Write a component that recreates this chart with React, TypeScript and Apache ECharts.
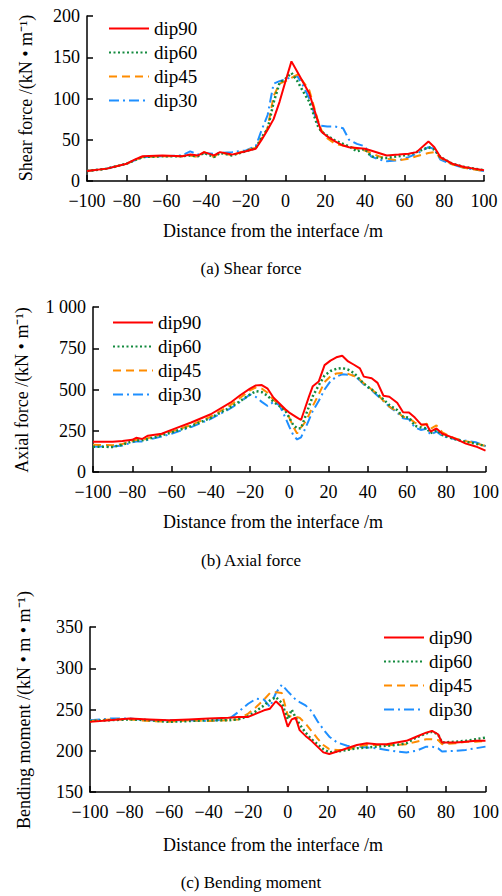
import React, { useEffect, useRef } from "react";
import * as echarts from "echarts";

// ---------- Panel (a) Shear force ----------
const shearX = [-100, -90, -80, -76, -72, -62, -52, -48, -44, -41, -36, -33, -27, -20, -15, -12, -9, -6, -3, 0, 3, 6, 9, 12, 16, 18, 21, 25, 29, 32, 36, 40, 43, 47, 51, 57, 62, 66, 72, 75, 78, 84, 90, 95, 100];
const shearDip90 = [12, 15, 21, 26, 30, 31, 30, 32, 31, 35, 31, 35, 32, 36, 39, 50, 62, 75, 96, 121, 145, 132, 119, 106, 75, 60, 54, 48, 43, 41, 40, 39, 37, 34, 31, 32, 33, 35, 48, 41, 29, 21, 17, 15, 13];
const shearDip60 = [12, 15, 21, 25, 29, 30, 30, 31, 30, 34, 29, 34, 31, 36, 40, 53, 63, 95, 119, 124, 131, 121, 108, 96, 68, 60, 55, 49, 45, 42, 36, 39, 30, 28, 28, 30, 32, 35, 41, 38, 29, 21, 17, 15, 13];
const shearDip45 = [12, 15, 21, 25, 29, 30, 30, 31, 29, 35, 29, 35, 31, 37, 40, 52, 64, 103, 118, 121, 125, 129, 120, 110, 76, 62, 52, 45, 43, 42, 39, 37, 34, 30, 27, 25, 27, 30, 34, 35, 28, 20, 16, 14, 12];
const shearDip30 = [12, 15, 21, 25, 29, 30, 31, 36, 32, 34, 33, 34, 35, 37, 42, 62, 80, 118, 121, 123, 126, 127, 115, 100, 71, 67, 66, 66, 64, 50, 45, 42, 30, 26, 24, 25, 29, 33, 41, 39, 26, 20, 16, 14, 12];

// ---------- Panel (b) Axial force ----------
const axialX = [-100, -90, -85, -80, -78, -75, -72, -65, -60, -50, -40, -30, -25, -20, -17, -14, -11, -8, -5, -2, 0, 2, 4, 6, 8, 10, 12, 15, 18, 21, 24, 27, 30, 33, 36, 38, 42, 45, 48, 51, 55, 58, 61, 64, 67, 70, 72, 75, 78, 84, 90, 95, 100];
const axialDip90 = [183, 184, 188, 195, 207, 200, 220, 232, 255, 300, 350, 420, 465, 505, 525, 527, 505, 450, 415, 380, 360, 345, 330, 315, 385, 455, 520, 548, 648, 675, 695, 705, 670, 650, 628, 578, 568, 540, 462, 456, 420, 362, 360, 330, 290, 288, 245, 264, 232, 205, 172, 155, 130];
const axialDip60 = [153, 152, 165, 186, 190, 192, 200, 222, 240, 278, 328, 392, 430, 470, 490, 484, 462, 425, 400, 372, 330, 285, 265, 264, 330, 396, 460, 525, 585, 612, 625, 630, 620, 600, 560, 535, 500, 470, 440, 405, 375, 335, 330, 280, 270, 265, 235, 254, 224, 200, 182, 172, 157];
const axialDip45 = [165, 162, 170, 188, 195, 192, 205, 228, 245, 285, 335, 405, 450, 495, 512, 505, 480, 436, 410, 375, 330, 275, 234, 270, 300, 345, 400, 470, 545, 580, 597, 600, 595, 582, 560, 537, 500, 470, 432, 396, 365, 335, 325, 300, 280, 293, 262, 282, 240, 205, 186, 174, 157];
const axialDip30 = [153, 155, 160, 180, 185, 185, 195, 215, 232, 272, 322, 385, 425, 470, 455, 425, 400, 425, 405, 330, 275, 225, 197, 210, 260, 315, 370, 430, 500, 550, 578, 592, 590, 585, 555, 530, 495, 462, 430, 396, 360, 325, 320, 270, 255, 262, 225, 245, 218, 200, 190, 180, 157];

// ---------- Panel (c) Bending moment ----------
const momentX = [-100, -90, -80, -70, -60, -50, -40, -30, -25, -20, -16, -12, -9, -6, -3, 0, 2, 4, 6, 9, 12, 15, 18, 21, 25, 30, 35, 40, 45, 50, 55, 60, 65, 70, 73, 76, 78, 85, 90, 95, 100];
const momentDip90 = [235, 237, 239, 238, 237, 238, 239, 240, 241, 241, 245, 249, 251, 260, 253, 229, 238, 240, 225, 218, 212, 205, 198, 196, 199, 203, 207, 209, 208, 208, 210, 212, 217, 222, 224, 220, 210, 210, 211, 212, 212];
const momentDip60 = [236, 237, 238, 237, 235, 236, 237, 237, 238, 242, 248, 255, 261, 265, 258, 238, 250, 240, 232, 222, 214, 208, 202, 198, 199, 201, 203, 204, 205, 206, 207, 209, 216, 221, 223, 220, 210, 211, 212, 214, 216];
const momentDip45 = [236, 238, 238, 236, 235, 237, 236, 237, 238, 245, 253, 262, 270, 271, 270, 243, 241, 241, 240, 233, 224, 215, 207, 202, 201, 201, 205, 207, 207, 207, 207, 208, 211, 214, 214, 213, 208, 209, 211, 211, 212];
const momentDip30 = [237, 239, 239, 237, 237, 237, 236, 238, 247, 257, 263, 262, 253, 270, 280, 272, 267, 262, 259, 255, 248, 236, 226, 217, 210, 206, 205, 204, 203, 201, 199, 198, 200, 205, 205, 203, 199, 200, 201, 203, 205];

const seriesNames = ["dip90", "dip60", "dip45", "dip30"];
const xTicks = { min: -100, max: 100, interval: 20 };

const FONT = "Liberation Serif";

const styles = [
  { color: "#FF0000", type: "solid" as any, width: 2 },
  { color: "#138A3E", type: [2, 2.5] as any, width: 2.5 },
  { color: "#FF8C00", type: [8, 5] as any, width: 2 },
  { color: "#1E8FFF", type: [10, 4, 2, 4] as any, width: 2 },
];

function pairs(xs: number[], ys: number[]) {
  return xs.map((x, i) => [x, ys[i]]);
}

export default function App() {
  const ref = useRef<HTMLDivElement>(null);
  useEffect(() => {
    if (!ref.current) return;
    const chart = echarts.init(ref.current, undefined, { renderer: "svg" });

    const grids = [
      { left: 87, top: 16, width: 397, height: 165 },
      { left: 93, top: 307, width: 397, height: 165 },
      { left: 90, top: 627, width: 397, height: 165 },
    ];
    const yDefs = [
      { min: 0, max: 200, interval: 50 },
      { min: 0, max: 1000, interval: 250 },
      { min: 150, max: 350, interval: 50 },
    ];
    const panelData = [
      [shearX, [shearDip90, shearDip60, shearDip45, shearDip30]],
      [axialX, [axialDip90, axialDip60, axialDip45, axialDip30]],
      [momentX, [momentDip90, momentDip60, momentDip45, momentDip30]],
    ] as [number[], number[][]][];

    const axisCommon = {
      axisLine: { show: true, onZero: false, lineStyle: { color: "#000", width: 1.5 } },
      axisTick: { show: true, inside: true, length: 6, lineStyle: { color: "#000", width: 1.5 } },
      splitLine: { show: false },
    };

    const xAxis = grids.map((_, i) => ({
      type: "value",
      gridIndex: i,
      ...xTicks,
      ...axisCommon,
      axisLabel: {
        fontFamily: FONT,
        fontSize: 18,
        color: "#000",
        margin: 11,
        formatter: (v: number) => (v < 0 ? "\u2212" + Math.abs(v) : String(v)),
      },
    }));
    const yAxis = grids.map((_, i) => ({
      type: "value",
      gridIndex: i,
      ...yDefs[i],
      ...axisCommon,
      axisLabel: {
        fontFamily: FONT,
        fontSize: 18,
        color: "#000",
        margin: 7,
        formatter: (v: number) => (v >= 1000 ? "1 000" : String(v)),
      },
    }));

    const series: any[] = [];
    panelData.forEach(([xs, ys], p) => {
      ys.forEach((yv, s) => {
        series.push({
          type: "line",
          name: seriesNames[s],
          xAxisIndex: p,
          yAxisIndex: p,
          data: pairs(xs, yv),
          symbol: "none",
          showSymbol: false,
          lineStyle: { color: styles[s].color, type: styles[s].type, width: styles[s].width },
          itemStyle: { color: styles[s].color },
          z: 10 - s,
        });
      });
    });

    const legendPos = [
      { left: 103, top: 14 },
      { left: 107, top: 308 },
      { left: 378, top: 623 },
    ];
    const legend = legendPos.map((pos) => ({
      ...pos,
      orient: "vertical",
      data: seriesNames,
      icon: "inherit",
      itemWidth: 40,
      itemHeight: 18,
      itemGap: 5,
      selectedMode: false,
      itemStyle: { opacity: 0 },
      textStyle: { fontFamily: FONT, fontSize: 19, color: "#000", lineHeight: 18 },
    }));

    const txt = (x: number, y: number, text: string, size: number, rotation = 0) => ({
      type: "text",
      x,
      y,
      rotation,
      style: {
        text,
        fontFamily: FONT,
        fontSize: size,
        fill: "#000",
        align: "center",
        verticalAlign: "middle",
      },
    });

    const graphic = [
      txt(273, 231, "Distance from the interface /m", 18),
      txt(273, 522, "Distance from the interface /m", 18),
      txt(273, 845, "Distance from the interface /m", 18),
      txt(251, 268, "(a) Shear force", 17),
      txt(251, 560, "(b) Axial force", 17),
      txt(251, 882, "(c) Bending moment", 17),
      txt(26, 98, "Shear force /(kN \u2022 m\u207B\u00B9)", 18, Math.PI / 2),
      txt(22, 390, "Axial force /(kN \u2022 m\u207B\u00B9)", 18, Math.PI / 2),
      txt(24, 710, "Bending moment /(kN \u2022 m \u2022 m\u207B\u00B9)", 18, Math.PI / 2),
    ];

    chart.setOption({
      animation: false,
      backgroundColor: "#fff",
      textStyle: { fontFamily: FONT },
      grid: grids,
      xAxis,
      yAxis,
      legend,
      series,
      graphic,
    } as any);
    return () => chart.dispose();
  }, []);
  return (
    <div
      ref={ref}
      style={{ position: "absolute", left: 0, top: 0, width: 502, height: 896, background: "#fff", fontFamily: FONT }}
    />
  );
}
